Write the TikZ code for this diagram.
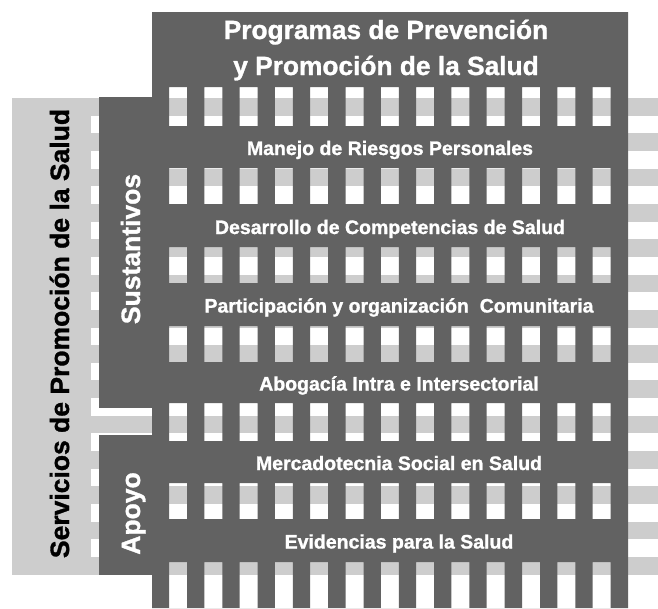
\documentclass[tikz,border=0pt]{standalone}
\usepackage{fontspec}
\setmainfont{Liberation Sans}[BoldFeatures = {FakeBold = 1.2}]
\usetikzlibrary{positioning}
\definecolor{darkgrey}{RGB}{98,98,98}
\definecolor{lightgrey}{RGB}{205,205,205}
\begin{document}
\begin{tikzpicture}[x = 1pt, y = -1pt,
        titletext/.style = {text = white, font = \fontsize{26.3}{30}\selectfont\bfseries, anchor = base, inner sep = 0pt},
        rowtext/.style = {text = white, font = \fontsize{19.5}{23}\selectfont\bfseries, anchor = base, inner sep = 0pt},
        sidetext/.style = {font = \fontsize{26.5}{31}\selectfont\bfseries, rotate = 90, anchor = base, inner sep = 0pt}]
    \useasboundingbox (0, 0) rectangle (658, 608);

    \foreach \k in {0, ..., 13}
        \fill [lightgrey] (91, {98 + 35.3*\k}) rectangle (658, {115.7 + 35.3*\k});
    \fill [lightgrey] (12, 98) rectangle (91, 575);

    \fill [darkgrey] (99, 97) rectangle (153, 408);
    \fill [darkgrey] (99, 435) rectangle (153, 575);
    \fill [darkgrey, even odd rule] (152, 12) rectangle (628, 608)
        \foreach \rowtop/\rowbot in {87/126, 168/204, 247/283, 326/362, 403/441, 483/519, 562/608} {
            \foreach \k in {0, ..., 12} { ({169 + 35.3*\k}, \rowtop) rectangle ({187 + 35.3*\k}, \rowbot) }
        };

    \node [titletext] (titleTop) at (386, 39) {Programas de Prevención};
    \node [titletext] (titleBottom) at (386, 75) {y Promoción de la Salud};

    \node [rowtext] (manejo) at (390, 155) {Manejo de Riesgos Personales};
    \node [rowtext] (desarrollo) at (390, 234) {Desarrollo de Competencias de Salud};
    \node [rowtext] (participacion) at (399, 312.5) {Participación y organización~~Comunitaria};
    \node [rowtext] (abogacia) at (399, 390.5) {Abogacía Intra e Intersectorial};
    \node [rowtext] (mercadotecnia) at (399, 470) {Mercadotecnia Social en Salud};
    \node [rowtext] (evidencias) at (399, 548.5) {Evidencias para la Salud};

    \node [sidetext, text = black] (servicios) at (69, 333.5) {Servicios de Promoción de la Salud};
    \node [sidetext, text = white] (sustantivos) at (140, 249) {Sustantivos};
    \node [sidetext, text = white] (apoyo) at (140, 513.5) {Apoyo};
\end{tikzpicture}
\end{document}
